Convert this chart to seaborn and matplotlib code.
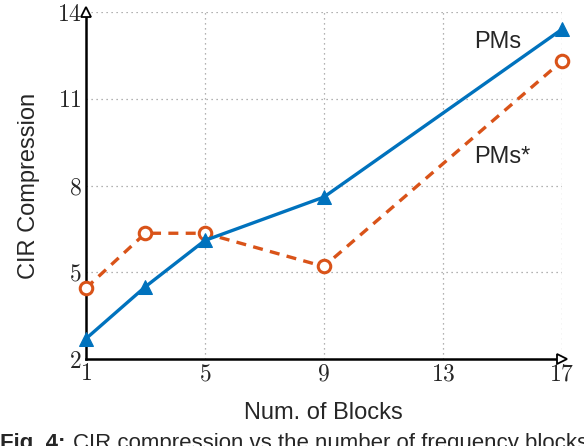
import matplotlib
matplotlib.use("Agg")
import matplotlib.pyplot as plt
import seaborn as sns
import pandas as pd

# values
blocks_pms = [1, 3, 5, 9, 17]
cir_pms = [2.7, 4.5, 6.1, 7.6, 13.4]
blocks_pms_star = [1, 3, 5, 9, 17]
cir_pms_star = [4.45, 6.35, 6.35, 5.2, 12.3]
x_ticks = [1, 5, 9, 13, 17]
y_ticks = [2, 5, 8, 11, 14]

blue = "#0072BD"
orange = "#D95319"

sns.set_style("white")
plt.rcParams["font.family"] = ["Liberation Sans", "DejaVu Sans"]
plt.rcParams["mathtext.fontset"] = "cm"

df_a = pd.DataFrame({"blocks": blocks_pms, "cir": cir_pms})
df_b = pd.DataFrame({"blocks": blocks_pms_star, "cir": cir_pms_star})

fig = plt.figure(figsize=(5.84, 4.46), dpi=100)
ax = fig.add_axes([0.147, 0.195, 0.815, 0.778])

sns.lineplot(data=df_b, x="blocks", y="cir", ax=ax, color=orange, lw=2.4,
             linestyle=(0, (3, 2.2)), marker="o", markersize=9,
             markerfacecolor="white", markeredgecolor=orange, markeredgewidth=2.2,
             clip_on=False, zorder=3)
sns.lineplot(data=df_a, x="blocks", y="cir", ax=ax, color=blue, lw=2.4,
             marker="^", markersize=10, markeredgecolor=blue, clip_on=False, zorder=4)

ax.set_xlim(1, 17)
ax.set_ylim(2, 14)
ax.set_xticks(x_ticks)
ax.set_yticks(y_ticks)
ax.set_xticklabels([f"${v}$" for v in x_ticks], fontsize=17)
ax.set_yticklabels([f"${v}$" for v in y_ticks], fontsize=17)
ax.tick_params(length=0, pad=3)
ax.grid(True, linestyle=(0, (1, 3)), color="#999999", lw=0.9)

for side in ["top", "right"]:
    ax.spines[side].set_visible(False)
for side in ["left", "bottom"]:
    ax.spines[side].set_linewidth(1.8)
    ax.spines[side].set_color("black")

# open arrowheads at the axis ends
ax.plot(1, 0, ">", transform=ax.transAxes, clip_on=False, zorder=5,
        markersize=7, markerfacecolor="white", markeredgecolor="black", markeredgewidth=1.3)
ax.plot(0, 1, "^", transform=ax.transAxes, clip_on=False, zorder=5,
        markersize=7, markerfacecolor="white", markeredgecolor="black", markeredgewidth=1.3)

ax.set_xlabel("Num. of Blocks", fontsize=17, labelpad=12)
ax.set_ylabel("CIR Compression", fontsize=17, labelpad=12)

ax.text(14.05, 12.95, "PMs", fontsize=17, ha="left", va="center")
ax.text(14.05, 9.0, "PMs*", fontsize=17, ha="left", va="center")

fig.text(0.0, 0.006, "Fig. 4:", fontsize=16, fontweight="bold", ha="left", va="center")
fig.text(0.125, 0.006, "CIR compression vs the number of frequency blocks",
         fontsize=16, ha="left", va="center")

fig.savefig("out.png", dpi=100)
